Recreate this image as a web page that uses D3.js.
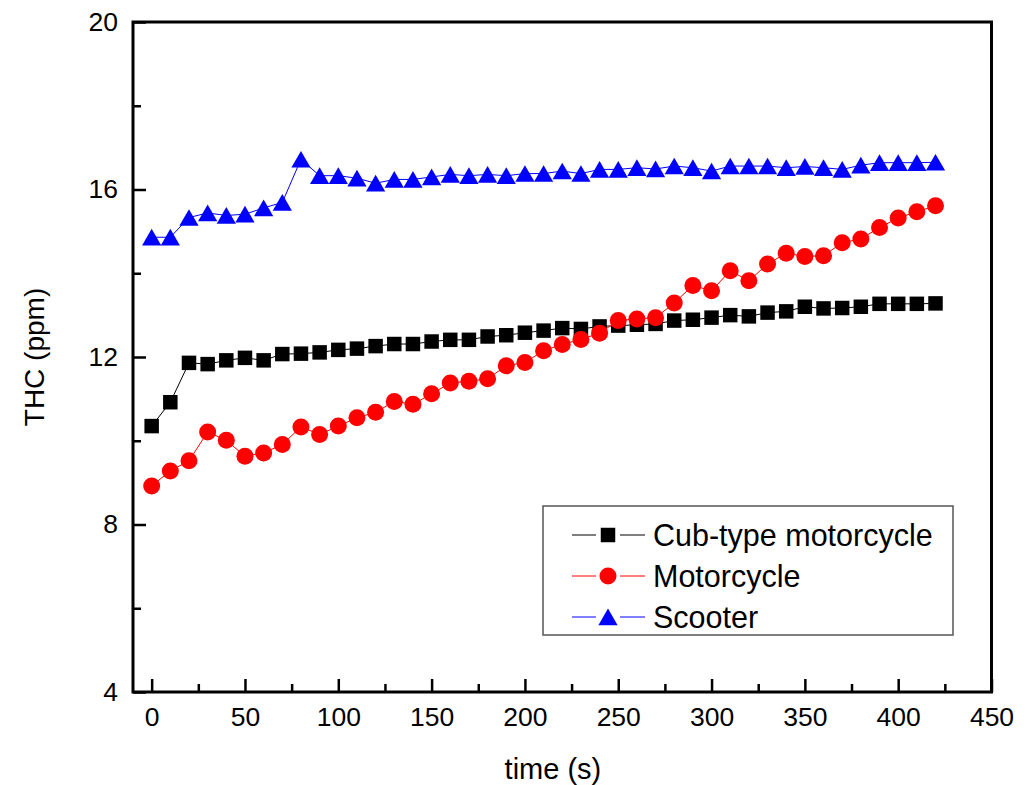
<!DOCTYPE html>
<html>
<head>
<meta charset="utf-8">
<script src="https://cdn.jsdelivr.net/npm/d3@7"></script>
<style>
  body { margin: 0; background: #fff; }
  text { font-family: "Liberation Sans", Arial, sans-serif; fill: #000; }
</style>
</head>
<body>
<div id="graph"></div>
<script>
// Data
let times = [0, 10, 20, 30, 40, 50, 60, 70, 80, 90, 100, 110, 120, 130, 140, 150, 160, 170, 180, 190, 200,
    210, 220, 230, 240, 250, 260, 270, 280, 290, 300, 310, 320, 330, 340, 350, 360, 370, 380, 390, 400, 410, 420];

let cubType = [10.35, 10.92, 11.86, 11.83, 11.92, 11.98, 11.92, 12.07, 12.08, 12.11, 12.17, 12.20, 12.26, 12.31, 12.31,
    12.37, 12.41, 12.41, 12.49, 12.52, 12.58, 12.63, 12.69, 12.67, 12.73, 12.75, 12.77, 12.79, 12.87, 12.89, 12.94,
    13.00, 12.97, 13.06, 13.09, 13.20, 13.16, 13.17, 13.20, 13.27, 13.27, 13.27, 13.28];

let motorcycle = [8.92, 9.28, 9.52, 10.21, 10.01, 9.63, 9.71, 9.91, 10.33, 10.15, 10.35, 10.55, 10.68, 10.94, 10.87,
    11.12, 11.38, 11.42, 11.48, 11.79, 11.87, 12.15, 12.30, 12.42, 12.57, 12.87, 12.91, 12.94, 13.29, 13.71, 13.58,
    14.06, 13.82, 14.22, 14.48, 14.40, 14.42, 14.73, 14.82, 15.09, 15.32, 15.47, 15.61];

let scooter = [14.86, 14.86, 15.33, 15.44, 15.38, 15.41, 15.56, 15.69, 16.72, 16.33, 16.33, 16.27, 16.15, 16.24, 16.24,
    16.30, 16.36, 16.33, 16.36, 16.33, 16.38, 16.38, 16.44, 16.38, 16.48, 16.48, 16.52, 16.49, 16.56, 16.52, 16.44,
    16.56, 16.56, 16.56, 16.52, 16.55, 16.52, 16.48, 16.58, 16.64, 16.64, 16.64, 16.65];

let seriesNames = ["Cub-type motorcycle", "Motorcycle", "Scooter"];
let xMajorTicks = [0, 50, 100, 150, 200, 250, 300, 350, 400, 450];
let xMinorTicks = [25, 75, 125, 175, 225, 275, 325, 375, 425];
let yMajorTicks = [4, 8, 12, 16, 20];
let yMinorTicks = [6, 10, 14, 18];

// Layout
let width = 1027;
let height = 785;
let margin = { left: 133, right: 35.5, top: 22, bottom: 93 };
let plotW = width - margin.left - margin.right;
let plotH = height - margin.top - margin.bottom;

// Series styles (triangle nudged so its box is centred on the point)
let series = [
    { name: seriesNames[0], values: cubType, color: "#000000", symbol: d3.symbolSquare, size: 210, dy: 0 },
    { name: seriesNames[1], values: motorcycle, color: "#ff0000", symbol: d3.symbolCircle, size: 227, dy: 0 },
    { name: seriesNames[2], values: scooter, color: "#0000ff", symbol: d3.symbolTriangle, size: 160, dy: 2.7 }
];

// Scales
let xScale = d3.scaleLinear().domain([-10, 450]).range([0, plotW]);
let yScale = d3.scaleLinear().domain([4, 20]).range([plotH, 0]);

// Canvas
let svg = d3.select("#graph")
    .append("svg")
    .attr("width", width)
    .attr("height", height);

let g = svg.append("g")
    .attr("transform", "translate(" + margin.left + "," + margin.top + ")");

// Axes (ticks point inward)
g.append("g")
    .attr("transform", "translate(0," + plotH + ")")
    .call(d3.axisBottom(xScale).tickValues(xMajorTicks).tickSize(-13).tickPadding(15));
g.append("g")
    .attr("transform", "translate(0," + plotH + ")")
    .call(d3.axisBottom(xScale).tickValues(xMinorTicks).tickSize(-8).tickFormat(""));

g.append("g")
    .call(d3.axisLeft(yScale).tickValues(yMajorTicks).tickSize(-13).tickPadding(15));
g.append("g")
    .call(d3.axisLeft(yScale).tickValues(yMinorTicks).tickSize(-8).tickFormat(""));

g.selectAll(".domain").remove();
g.selectAll(".tick line").attr("stroke", "#000").attr("stroke-width", 2.5);
g.selectAll(".tick text").attr("font-size", 26.5).attr("fill", "#000");

// Frame
g.append("rect")
    .attr("width", plotW)
    .attr("height", plotH)
    .attr("fill", "none")
    .attr("stroke", "#000")
    .attr("stroke-width", 3);

// Axis titles
svg.append("text")
    .attr("x", margin.left + xScale(215))
    .attr("y", 779)
    .attr("text-anchor", "middle")
    .attr("font-size", 29)
    .text("time (s)");

svg.append("text")
    .attr("transform", "translate(44," + (margin.top + yScale(12)) + ") rotate(-90)")
    .attr("text-anchor", "middle")
    .attr("font-size", 28)
    .text("THC (ppm)");

// Lines and markers
let line = d3.line()
    .x((d, i) => xScale(times[i]))
    .y(d => yScale(d));

series.forEach(s => {
    g.append("path")
        .datum(s.values)
        .attr("fill", "none")
        .attr("stroke", s.color)
        .attr("stroke-width", 1)
        .attr("d", line);

    g.append("g")
        .selectAll("path")
        .data(s.values)
        .join("path")
        .attr("transform", (d, i) => "translate(" + xScale(times[i]) + "," + (yScale(d) + s.dy) + ")")
        .attr("d", d3.symbol().type(s.symbol).size(s.size))
        .attr("fill", s.color);
});

// Legend
let legend = svg.append("g").attr("transform", "translate(543,506)");
legend.append("rect")
    .attr("width", 410)
    .attr("height", 129)
    .attr("fill", "#fff")
    .attr("stroke", "#555")
    .attr("stroke-width", 1.5);

series.forEach((s, i) => {
    let row = legend.append("g").attr("transform", "translate(0," + (29 + i * 41) + ")");
    row.append("line")
        .attr("x1", 29).attr("x2", 102)
        .attr("stroke", s.color)
        .attr("stroke-width", 1);
    row.append("rect")
        .attr("x", 53).attr("y", -10)
        .attr("width", 24).attr("height", 20)
        .attr("fill", "#fff");
    row.append("path")
        .attr("transform", "translate(65," + s.dy + ")")
        .attr("d", d3.symbol().type(s.symbol).size(s.size))
        .attr("fill", s.color);
    row.append("text")
        .attr("x", 110)
        .attr("dy", "0.36em")
        .attr("font-size", 30.5)
        .text(s.name);
});
</script>
</body>
</html>
